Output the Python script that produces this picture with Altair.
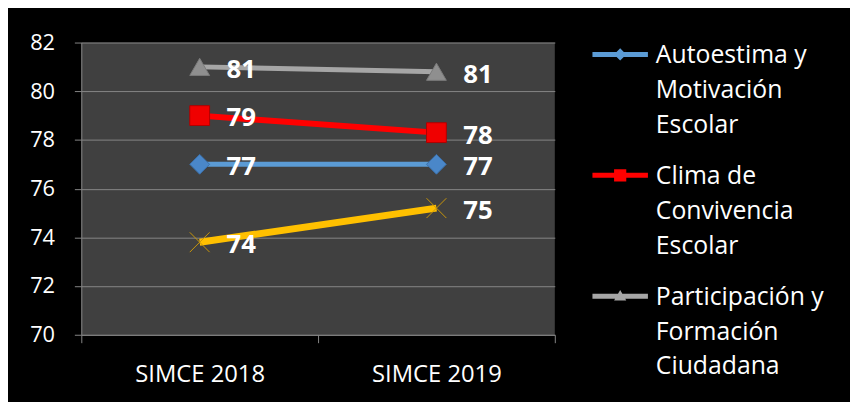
import altair as alt
import pandas as pd

categories = ["SIMCE 2018", "SIMCE 2019"]
series = [
    "Autoestima y Motivación Escolar",
    "Clima de Convivencia Escolar",
    "Participación y Formación Ciudadana",
    "Hábitos de Vida Saludable",
]
autoestima = [77.0, 77.0]
clima = [79.0, 78.3]
participacion = [81.0, 80.8]
habitos = [73.8, 75.2]
all_values = [autoestima, clima, participacion, habitos]

legend_lines = [
    ["Autoestima y", "Motivación", "Escolar"],
    ["Clima de", "Convivencia", "Escolar"],
    ["Participación y", "Formación", "Ciudadana"],
]
y_ticks = [70, 72, 74, 76, 78, 80, 82]

line_colors = ["#5b9bd5", "#ff0000", "#a6a6a6", "#ffc000"]
line_widths = [5, 6, 5, 7]
marker_shapes = ["diamond", "square", "triangle-up", "M-1,-1L1,1M-1,1L1,-1"]
marker_fills = ["#4a87c9", "#f00000", "#8f8f8f", None]
marker_strokes = ["#3b6fa8", "#b00000", "#7a7a7a", "#c8960a"]
# legend symbols: line + marker, raised to sit beside the first label line
legend_paths = [
    "M-1,-0.41H1V-0.23H-1Z M0,-0.54L0.22,-0.32L0,-0.10L-0.22,-0.32Z",
    "M-1,-0.41H1V-0.23H-1Z M-0.22,-0.54H0.22V-0.10H-0.22Z",
    "M-1,-0.41H1V-0.23H-1Z M0,-0.54L0.22,-0.16H-0.22Z",
    "M-1,-0.41H1V-0.23H-1Z",
]

rows = []
for s, vals in zip(series, all_values):
    for c, v in zip(categories, vals):
        rows.append({"Serie": s, "Prueba": c, "Puntaje": v})
df = pd.DataFrame(rows)

FONT = "Open Sans"

x_enc = alt.X(
    "Prueba:N",
    scale=alt.Scale(type="band", domain=categories, paddingInner=0, paddingOuter=0),
    axis=alt.Axis(
        title=None, labelAngle=0, tickBand="extent", labelColor="white",
        labelFont=FONT, labelFontSize=24, labelPadding=20, tickSize=8,
        tickColor="#868686", domainColor="#868686", grid=False,
    ),
)
y_enc = alt.Y(
    "Puntaje:Q",
    scale=alt.Scale(domain=[70, 82], nice=False, zero=False),
    axis=alt.Axis(
        title=None, values=y_ticks, labelColor="white", labelFont=FONT,
        labelFontSize=22, labelPadding=20, tickSize=7, tickColor="#868686",
        domainColor="#868686", gridColor="#868686", gridWidth=1,
    ),
)

base = alt.Chart(df)
layers = []
for i, s in enumerate(series):
    sub = base.transform_filter(alt.datum.Serie == s)
    layers.append(
        sub.mark_line(color=line_colors[i], strokeWidth=line_widths[i]).encode(x=x_enc, y=y_enc)
    )
for i, s in enumerate(series):
    sub = base.transform_filter(alt.datum.Serie == s)
    if marker_fills[i] is None:
        mk = sub.mark_point(shape=marker_shapes[i], filled=False, size=400,
                            stroke=marker_strokes[i], strokeWidth=1, opacity=1)
    else:
        mk = sub.mark_point(shape=marker_shapes[i], filled=True, size=400,
                            fill=marker_fills[i], stroke=marker_strokes[i],
                            strokeWidth=1, opacity=1)
    layers.append(mk.encode(x=x_enc, y=y_enc))

label_expr = " : ".join(
    f"datum.label == '{series[i]}' ? {legend_lines[i]!r}" for i in range(2)
) + f" : {legend_lines[2]!r}"

legend = alt.Legend(
    title=None, orient="none", legendX=516, legendY=-7, values=series[:3],
    labelExpr=label_expr, labelColor="white", labelFont=FONT, labelFontSize=25,
    labelOffset=8, labelLimit=400, symbolSize=3136, symbolOpacity=1,
    symbolStrokeWidth=0, rowPadding=19, labelBaseline="alphabetic", padding=0,
)
legend_layer = base.mark_point(filled=True, opacity=0).encode(
    x=x_enc, y=y_enc,
    color=alt.Color("Serie:N", scale=alt.Scale(domain=series, range=line_colors), legend=legend),
    shape=alt.Shape("Serie:N", scale=alt.Scale(domain=series, range=legend_paths), legend=legend),
)
layers.append(legend_layer)

text_layer = base.mark_text(
    align="left", baseline="middle", dx=27, dy=3, fontSize=26, fontWeight="bold",
    color="white", font=FONT,
).encode(x=x_enc, y=y_enc, text=alt.Text("Puntaje:Q", format=".0f"))
layers.append(text_layer)

chart = alt.layer(*layers).properties(
    width=478, height=295,
    autosize=alt.AutoSizeParams(type="none"),
    padding={"left": 74, "top": 33, "right": 298, "bottom": 66},
    background="black",
).configure(
    style={"guide-label": {"lineHeight": 35}},
).configure_view(fill="#404040", stroke=None)

chart.save("out.html", embed_options={"renderer": "svg", "actions": False})
